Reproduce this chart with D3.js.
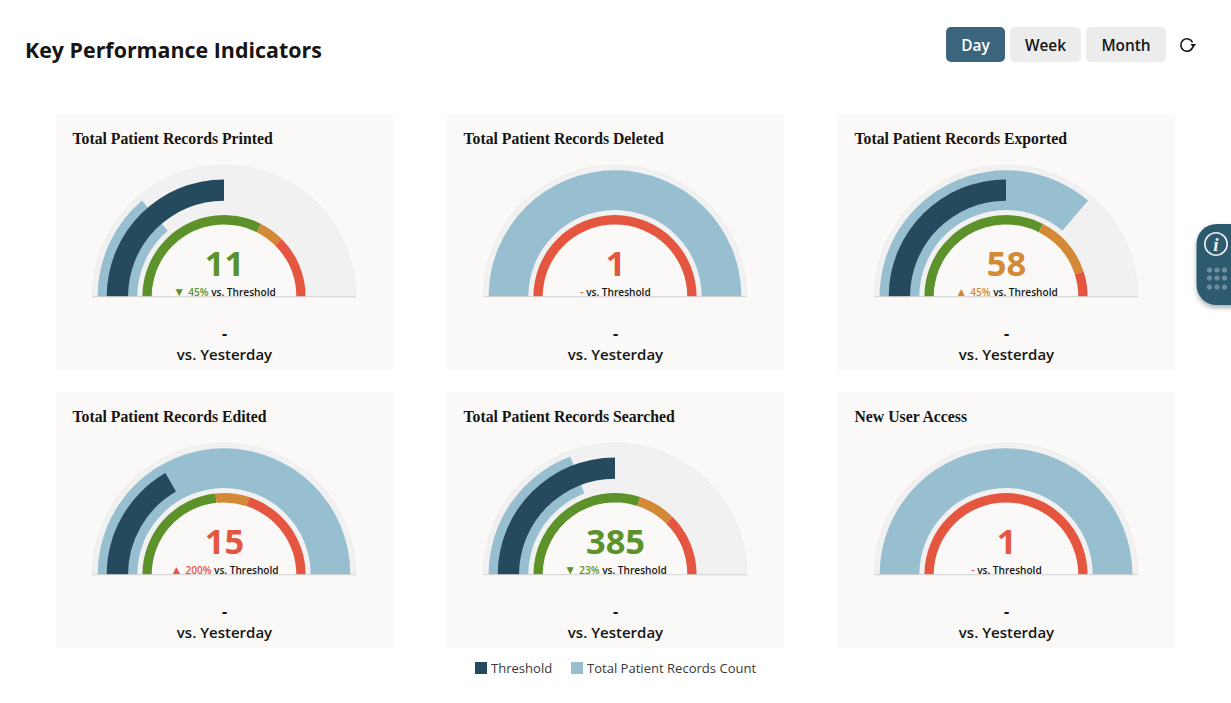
<!DOCTYPE html>
<html><head><meta charset="utf-8">
<script src="https://cdn.jsdelivr.net/npm/d3@7"></script>
<style>html,body{margin:0;padding:0;background:#fff;overflow:hidden}svg{display:block;font-family:"Open Sans",sans-serif}</style>
</head><body><svg id="c" width="1231" height="703"></svg>
<script>
const titles=["Total Patient Records Printed","Total Patient Records Deleted","Total Patient Records Exported","Total Patient Records Edited","Total Patient Records Searched","New User Access"];
const values=[11,1,58,15,385,1];
const thresholds=[20,0,40,5,500,0];
const maxima=[40,1,80,15,1000,1];
const greenEnds=[26,0,52,7,600,0];
const orangeEnds=[30,0,72,9,750,0];
const statusIdx=[0,2,1,2,0,2];
const deltaMarks=["▼","","▲","▲","▼",""];
const deltaTexts=["45%","-","45%","200%","23%","-"];
const yesterday=["-","-","-","-","-","-"];
const buttons=["Day","Week","Month"];
const legendLabels=["Threshold","Total Patient Records Count"];

const C={blue:"#97bfcf",dark:"#254a5e",green:"#5c9229",orange:"#d38935",red:"#e4563f",card:"#faf9f7",track:"#f1f1f2",edge:"#ececec"};
const statusColors=[C.green,C.orange,C.red];
const svg=d3.select("#c");
svg.append("text").attr("x",25).attr("y",58).attr("font-size",21.4).attr("font-weight",700).attr("fill","#161513").text("Key Performance Indicators");

const btnX=[946,1010,1086],btnW=[59,71,80];
buttons.forEach((b,i)=>{
  svg.append("rect").attr("x",btnX[i]).attr("y",27).attr("width",btnW[i]).attr("height",35).attr("rx",5).attr("fill",i==0?"#3a657d":"#ececec");
  svg.append("text").attr("x",btnX[i]+btnW[i]/2).attr("y",50.5).attr("text-anchor","middle").attr("font-size",15.4).attr("font-weight",600).attr("fill",i==0?"#fff":"#161513").text(b);
});
const ref=svg.append("g").attr("transform","translate(1187,45)");
ref.append("path").attr("d",d3.arc()({innerRadius:5.4,outerRadius:7,startAngle:0.6,endAngle:Math.PI*2-0.1})).attr("transform","rotate(70)").attr("fill","#161513");
ref.append("path").attr("d","M3.4,-1 L9.2,-1 L6.3,2.8 Z").attr("fill","#161513");

const cardX=[56,447,837],cardY=[114,392],cardW=[337,337,338],cardH=256;
const centerX=[224,615,1006],titleX=[72.5,463.5,854.5];
const R={tOut:132,bIn:86.7,bOut:126.4,dOut:117.3,dIn:96,rOut:81.6,rIn:72.3};
titles.forEach((t,i)=>{
  const col=i%3,row=Math.floor(i/3),y=cardY[row];
  svg.append("rect").attr("x",cardX[col]).attr("y",y).attr("width",cardW[col]).attr("height",cardH).attr("fill",C.card);
  svg.append("text").attr("x",titleX[col]).attr("y",y+30).attr("font-family","'Liberation Serif',serif").attr("font-weight",700).attr("font-size",15.75).attr("fill","#161513").text(t);
  const cx=centerX[col],cy=y+182.7;
  const a=svg.append("g").attr("transform",`translate(${cx},${cy})`);
  const ang=d3.scaleLinear().domain([0,maxima[i]]).range([-Math.PI/2,Math.PI/2]);
  const arc=(i0,o,s,e)=>d3.arc()({innerRadius:i0,outerRadius:o,startAngle:s,endAngle:e});
  a.append("path").attr("d",arc(R.rOut-1,R.tOut,ang(0),ang(maxima[i]))).attr("fill",C.track);
  a.append("path").attr("d",arc(R.tOut-0.8,R.tOut,ang(0),ang(maxima[i]))).attr("fill",C.edge);
  a.append("path").attr("d",arc(R.bIn,R.bOut,ang(0),ang(values[i]))).attr("fill",C.blue);
  if(thresholds[i]>0)a.append("path").attr("d",arc(R.dIn,R.dOut,ang(0),ang(thresholds[i]))).attr("fill",C.dark);
  const segs=[[0,greenEnds[i],C.green],[greenEnds[i],orangeEnds[i],C.orange],[orangeEnds[i],maxima[i],C.red]];
  segs.filter(s=>s[1]>s[0]).forEach(s=>a.append("path").attr("d",arc(R.rIn,R.rOut,ang(s[0]),ang(s[1]))).attr("fill",s[2]));
  a.append("line").attr("x1",-R.tOut).attr("x2",R.tOut).attr("y1",0).attr("y2",0).attr("stroke","#d2d2d2").attr("stroke-width",1);
  const vColor=statusColors[statusIdx[i]];
  a.append("text").attr("x",0.5).attr("y",-21).attr("text-anchor","middle").attr("font-size",34.5).attr("font-weight",700).attr("fill",vColor).text(values[i]);
  const st=a.append("text").attr("x",0.5).attr("y",-1).attr("text-anchor","middle").attr("font-size",10.1).attr("font-weight",600).attr("fill","#161513");
  if(deltaMarks[i])st.append("tspan").attr("fill",vColor).attr("font-size",12).text(deltaMarks[i]+" ");
  st.append("tspan").attr("fill",vColor).text(deltaTexts[i]);
  st.append("tspan").text(" vs. Threshold");
  svg.append("text").attr("x",cx+0.5).attr("y",y+225).attr("text-anchor","middle").attr("font-size",16).attr("font-weight",700).attr("fill","#161513").text(yesterday[i]);
  svg.append("text").attr("x",cx+0.5).attr("y",y+246).attr("text-anchor","middle").attr("font-size",15).attr("font-weight",600).attr("fill","#161513").text("vs. Yesterday");
});

const legX=[475,571],legC=[C.dark,C.blue];
legendLabels.forEach((l,i)=>{
  svg.append("rect").attr("x",legX[i]).attr("y",662).attr("width",12).attr("height",12).attr("fill",legC[i]);
  svg.append("text").attr("x",legX[i]+16).attr("y",673).attr("font-size",13.05).attr("fill","#3a3836").text(l);
});

const defs=svg.append("defs");
const f=defs.append("filter").attr("id","sh").attr("x","-30%").attr("y","-20%").attr("width","160%").attr("height","150%");
f.append("feDropShadow").attr("dx",0).attr("dy",3).attr("stdDeviation",2.5).attr("flood-color","#000").attr("flood-opacity",0.3);
svg.append("rect").attr("x",1196.5).attr("y",224).attr("width",70).attr("height",81).attr("rx",20).attr("fill","#2d5a70").attr("filter","url(#sh)");
svg.append("circle").attr("cx",1216).attr("cy",244).attr("r",11.2).attr("fill","none").attr("stroke","#e8eef1").attr("stroke-width",1.6);
svg.append("text").attr("x",1216).attr("y",250.5).attr("text-anchor","middle").attr("font-family","'Liberation Serif',serif").attr("font-style","italic").attr("font-weight",700).attr("font-size",19).attr("fill","#f2f5f6").text("i");
[1209.5,1217,1224.5].forEach(dx=>[270,278,287].forEach(dy=>svg.append("circle").attr("cx",dx).attr("cy",dy).attr("r",2.6).attr("fill","#6f8d9c")));
</script></body></html>
